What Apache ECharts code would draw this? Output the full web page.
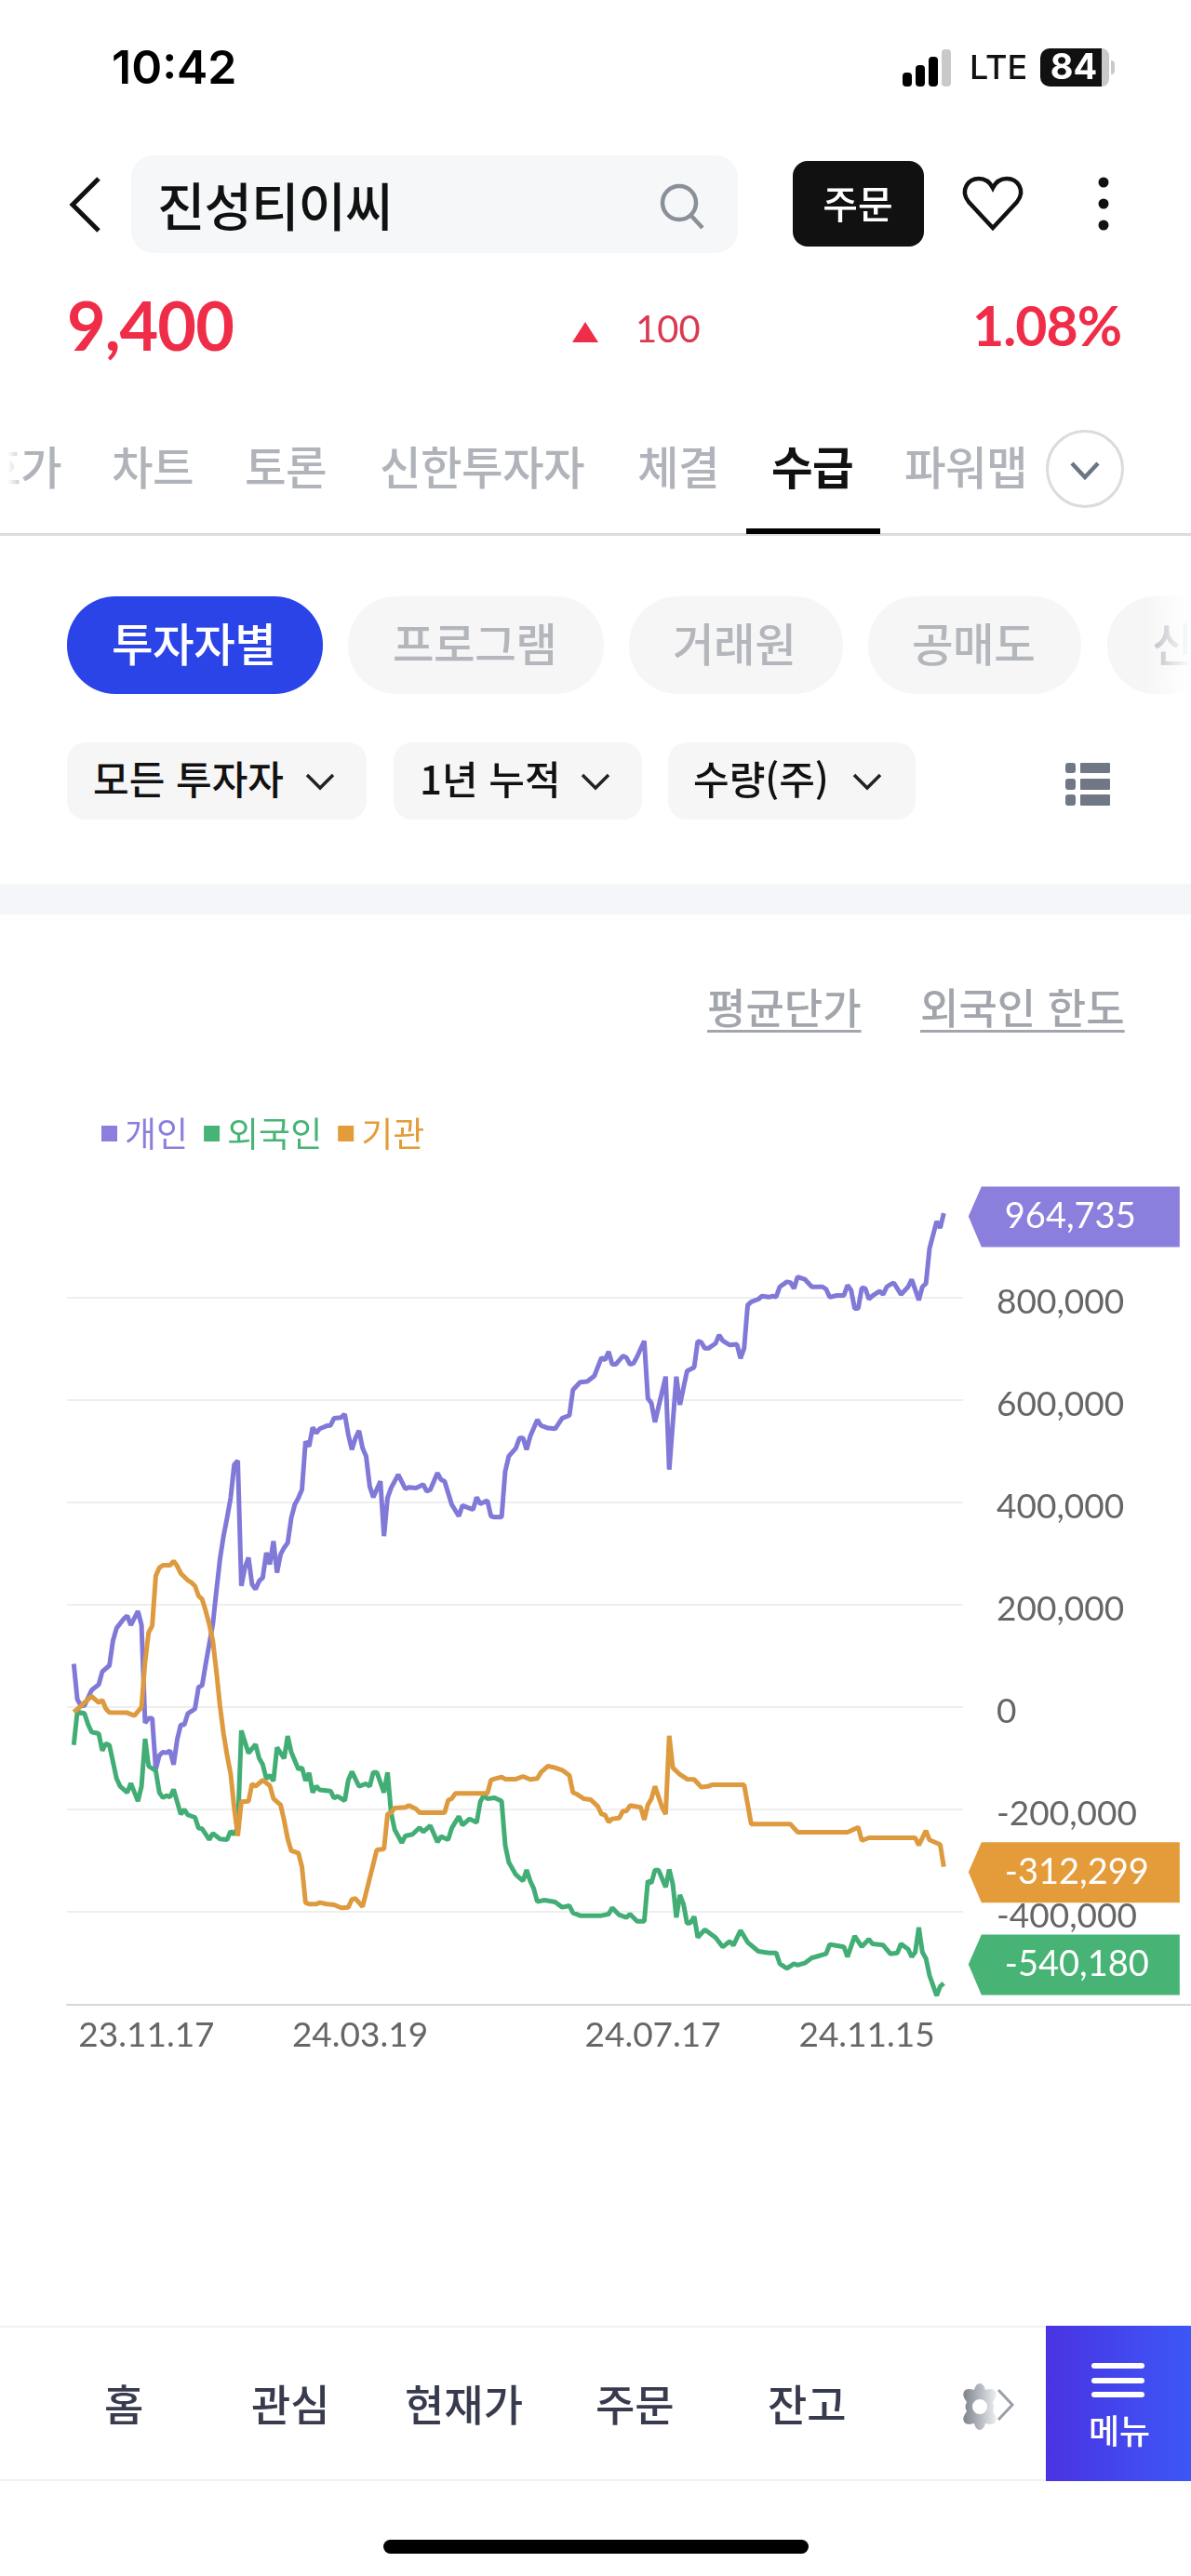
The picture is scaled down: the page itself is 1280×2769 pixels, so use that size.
<!DOCTYPE html>
<html lang="ko"><head><meta charset="utf-8">
<script src="https://cdn.jsdelivr.net/npm/echarts@6/dist/echarts.min.js"></script>
<style>
html,body{margin:0;padding:0;background:#fff;width:1280px;height:2769px;overflow:hidden;font-family:"Noto Sans CJK KR",sans-serif}
#chart{position:absolute;left:0;top:0;width:1280px;height:2769px}
.b{position:absolute}
.t{position:absolute;white-space:nowrap;transform:translateY(-50%);line-height:1.2}
.c{transform:translate(-50%,-50%);text-align:center}
.tab{font-size:48.5px;color:#b0b4ba;font-weight:500;letter-spacing:-.6px}
.pill{background:#f6f6f7;border-radius:52px;top:641px;height:105px}
.pt{font-size:48.5px;color:#b3b6bb;font-weight:500;top:690px;letter-spacing:-.5px}
.flt{background:#f6f6f7;border-radius:20px;top:798px;height:83px}
.ft{font-size:42px;color:#111;font-weight:500;top:836px}
.nav{font-size:46px;color:#373b4d;font-weight:500;top:2583px}
.lnk{font-size:45px;color:#a2a6ac;font-weight:500;top:1082px;text-decoration:underline;text-underline-offset:6px;text-decoration-thickness:3px}
svg{position:absolute;overflow:visible}
</style></head><body>
<div id="chart"></div>

<div class="t" style="left:120px;top:72px;font:600 50px Inter;line-height:1.2">10:42</div>
<svg style="left:970px;top:50px" width="60" height="46"><rect x="0" y="28" width="10" height="15" rx="4"/><rect x="14" y="20" width="10" height="23" rx="4"/><rect x="28" y="11" width="10" height="32" rx="4"/><rect x="42" y="3" width="10" height="40" rx="4" fill="#c9c9c9"/></svg>
<div class="t" style="left:1042px;top:73px;font:500 36px Inter;line-height:1.2;color:#111">LTE</div>
<div class="b" style="left:1118px;top:52px;width:66px;height:41px;background:#111;border-radius:10px 0 0 10px"></div>
<div class="b" style="left:1184px;top:52px;width:8px;height:41px;background:#c9c9c9;border-radius:0 10px 10px 0"></div>
<div class="b" style="left:1194px;top:65px;width:4px;height:15px;background:#c9c9c9;border-radius:0 4px 4px 0"></div>
<div class="t c" style="left:1154px;top:72px;font:700 38px Inter;line-height:1.2;color:#fff">84</div>

<svg style="left:75px;top:190px" width="32" height="60" fill="none" stroke="#111" stroke-width="5"><path d="M31,2 L3,30 L31,58"/></svg>
<div class="b" style="left:141px;top:167px;width:652px;height:105px;background:#f6f7f8;border-radius:24px"></div>
<div class="t" style="left:169px;top:219px;font-size:56px;font-weight:500;color:#111;letter-spacing:-1px">진성티이씨</div>
<svg style="left:710px;top:198px" width="46" height="48" fill="none" stroke="#8a909a" stroke-width="4.5"><circle cx="20" cy="20" r="18"/><path d="M33,34 L45,47"/></svg>
<div class="b" style="left:852px;top:173px;width:141px;height:92px;background:#111;border-radius:16px"></div>
<div class="t c" style="left:922px;top:218px;font-size:41px;font-weight:500;color:#fff">주문</div>
<svg style="left:1035px;top:190px" width="64" height="58" viewBox="0 0 64 58" fill="none" stroke="#111" stroke-width="4.5"><path d="M32,55 L6,27 C-4,14 6,2 17,2 C24,2 29,6 32,12 C35,6 40,2 47,2 C58,2 68,14 58,27 Z"/></svg>
<svg style="left:1176px;top:186px" width="20" height="66" fill="#111"><circle cx="10" cy="10" r="5.5"/><circle cx="10" cy="33" r="5.5"/><circle cx="10" cy="56" r="5.5"/></svg>

<div class="t" style="left:72px;top:349px;font:700 72px Lato;line-height:1.2;color:#ef2d48;letter-spacing:-1px">9,400</div>
<svg style="left:615px;top:346px" width="28" height="22" fill="#ef2d48"><path d="M14,0 L28,22 L0,22 Z"/></svg>
<div class="t" style="left:683px;top:353px;font:400 40px Lato;line-height:1.2;color:#d93a52">100</div>
<div class="t" style="left:1045px;top:350px;font:700 59px Lato;line-height:1.2;color:#ef2d48;letter-spacing:-1px">1.08%</div>

<div class="t tab" style="left:-22px;top:500px">호가</div>
<div class="b" style="left:0;top:470px;width:28px;height:60px;background:linear-gradient(90deg,#fff 30%,rgba(255,255,255,0))"></div>
<div class="t tab" style="left:120px;top:500px">차트</div>
<div class="t tab" style="left:263px;top:500px">토론</div>
<div class="t tab" style="left:408px;top:500px">신한투자자</div>
<div class="t tab" style="left:685px;top:500px">체결</div>
<div class="t tab" style="left:829px;top:500px;color:#111;font-weight:700">수급</div>
<div class="t tab" style="left:972px;top:500px">파워맵</div>
<svg style="left:1124px;top:462px" width="84" height="84" fill="none"><circle cx="42" cy="42" r="40.5" stroke="#d9dbde" stroke-width="3"/><path d="M28,36 L42,51 L56,36" stroke="#6b7684" stroke-width="4.5"/></svg>
<div class="b" style="left:0;top:573px;width:1280px;height:3px;background:#dcdcdc"></div>
<div class="b" style="left:802px;top:568px;width:144px;height:6px;background:#000"></div>

<div class="b" style="left:72px;top:641px;width:275px;height:105px;background:#2b44e8;border-radius:52px"></div>
<div class="t pt" style="left:120px;color:#fff">투자자별</div>
<div class="b pill" style="left:374px;width:275px"></div><div class="t pt" style="left:422px">프로그램</div>
<div class="b pill" style="left:676px;width:230px"></div><div class="t pt" style="left:723px">거래원</div>
<div class="b pill" style="left:933px;width:229px"></div><div class="t pt" style="left:980px">공매도</div>
<div class="b pill" style="left:1190px;width:120px"></div><div class="t pt" style="left:1238px">신</div>
<div class="b" style="left:1230px;top:641px;width:50px;height:105px;background:linear-gradient(90deg,rgba(255,255,255,0),#fff)"></div>

<div class="b flt" style="left:72px;width:322px"></div><div class="t ft" style="left:100px">모든 투자자</div>
<svg class="chev" style="left:328px;top:830px" width="32" height="20" fill="none" stroke="#222" stroke-width="3.5"><path d="M2,3 L16,17 L30,3"/></svg>
<div class="b flt" style="left:423px;width:267px"></div><div class="t ft" style="left:451px">1년 누적</div>
<svg style="left:624px;top:830px" width="32" height="20" fill="none" stroke="#222" stroke-width="3.5"><path d="M2,3 L16,17 L30,3"/></svg>
<div class="b flt" style="left:718px;width:266px"></div><div class="t ft" style="left:745px">수량(주)</div>
<svg style="left:916px;top:830px" width="32" height="20" fill="none" stroke="#222" stroke-width="3.5"><path d="M2,3 L16,17 L30,3"/></svg>
<svg style="left:1145px;top:820px" width="48" height="46" fill="#6f7884"><rect x="0" y="0" width="11" height="11" rx="3"/><rect x="16" y="0" width="32" height="11" rx="1"/><rect x="0" y="17" width="11" height="12" rx="3"/><rect x="16" y="17" width="32" height="12" rx="1"/><rect x="0" y="34" width="11" height="12" rx="3"/><rect x="16" y="34" width="32" height="12" rx="1"/></svg>

<div class="b" style="left:0;top:950px;width:1280px;height:33px;background:#f5f6fa"></div>
<div class="t lnk" style="left:760px">평균단가</div>
<div class="t lnk" style="left:989px">외국인 한도</div>

<div class="b" style="left:0;top:2500px;width:1124px;height:167px;border-top:2px solid #f1f1f1;border-bottom:2px solid #f1f1f1;box-sizing:border-box"></div>
<div class="t nav" style="left:112px">홈</div>
<div class="t nav" style="left:270px">관심</div>
<div class="t nav" style="left:435px">현재가</div>
<div class="t nav" style="left:640px">주문</div>
<div class="t nav" style="left:825px">잔고</div>
<svg style="left:1028px;top:2562px" width="64" height="50" viewBox="0 0 64 50"><defs><linearGradient id="g"><stop offset="0" stop-color="#7d838e"/><stop offset="1" stop-color="#eceef0"/></linearGradient></defs><path fill="url(#g)" fill-rule="evenodd" d="M25,0 C28,0 30,3 31,7 C35,6 40,5 42,9 C44,13 41,17 39,20 C40,23 41,27 39,30 C41,33 44,37 42,41 C40,45 35,44 31,43 C30,47 28,50 25,50 C22,50 20,47 19,43 C15,44 10,45 8,41 C6,37 9,33 11,30 C9,27 9,23 11,20 C9,17 6,13 8,9 C10,5 15,6 19,7 C20,3 22,0 25,0 Z M25,17 A8,8 0 1,0 25,33 A8,8 0 1,0 25,17 Z"/><path d="M45,7 L60,23 L45,39" fill="none" stroke="#9aa0a8" stroke-width="3"/></svg>
<div class="b" style="left:1124px;top:2500px;width:156px;height:167px;background:linear-gradient(90deg,#4a33e2,#3d57f7)"></div>
<div class="b" style="left:1173px;top:2540px;width:57px;height:6px;background:#fff;border-radius:3px"></div>
<div class="b" style="left:1173px;top:2556px;width:57px;height:6px;background:#fff;border-radius:3px"></div>
<div class="b" style="left:1173px;top:2571px;width:57px;height:6px;background:#fff;border-radius:3px"></div>
<div class="t c" style="left:1203px;top:2612px;font-size:36px;color:#fff;font-weight:500">메뉴</div>
<div class="b" style="left:412px;top:2730px;width:457px;height:15px;background:#000;border-radius:8px"></div>

<script>
// [trading-day index, cumulative net shares]
const individual = [[0,84300],[1,14600],[2,2500],[3,2500],[5,32800],[7,43700],[8,69000],[10,81000],[11,129700],[12,154000],[14,172000],[15,178000],[16,160000],[18,187000],[19,160000],[20,-31000],[21,-22000],[22,-22000],[23,-122000],[24,-94500],[25,-88400],[26,-89600],[27,-85400],[28,-112600],[29,-64000],[30,-35000],[31,-35000],[32,-12700],[33,-8400],[34,-3500],[35,38900],[36,41900],[37,83800],[39,161700],[40,226700],[41,288400],[42,333800],[43,369500],[44,408500],[45,473400],[46,481200],[47,236400],[48,272100],[49,291600],[50,239600],[51,229900],[52,246100],[53,252600],[54,301300],[55,278600],[56,324000],[57,262400],[58,298100],[59,311100],[60,320800],[61,369500],[62,395500],[63,408500],[64,424700],[65,518900],[66,509200],[67,546200],[68,535100],[69,543600],[71,549400],[72,550000],[73,564300],[75,565600],[76,572100],[77,531900],[78,502700],[79,525400],[80,539700],[81,505900],[82,489700],[83,431200],[84,409800],[86,440900],[87,333800],[88,408500],[89,427900],[91,453900],[93,426000],[94,429300],[96,427900],[98,434500],[99,421500],[100,424700],[102,457200],[103,444200],[104,441000],[106,395500],[108,372800],[109,393600],[112,385700],[113,409800],[114,396800],[116,403300],[117,372800],[118,370800],[120,370800],[121,460400],[122,489700],[124,505900],[125,525400],[126,525400],[127,502700],[128,528600],[130,561100],[131,550000],[133,544900],[135,543600],[137,564300],[139,569500],[140,619500],[142,634500],[144,635800],[146,646800],[148,682500],[149,678000],[150,694200],[151,669500],[152,669500],[154,685800],[155,682500],[156,669500],[157,671500],[158,684500],[160,715000],[161,603300],[162,593600],[163,556500],[166,645500],[167,463700],[169,645500],[170,590300],[172,656500],[174,663700],[175,715000],[176,712400],[177,700700],[178,700700],[180,710500],[181,726700],[182,715700],[184,707200],[186,708500],[187,681200],[188,700700],[189,785100],[190,791600],[192,796800],[193,802700],[195,800700],[196,802700],[197,801400],[198,820900],[200,830600],[201,829300],[202,817600],[203,840300],[205,835800],[207,820900],[210,820900],[211,816300],[212,800700],[214,804000],[216,804000],[217,824100],[218,814400],[219,778600],[220,778600],[221,818900],[222,817600],[223,796800],[224,803300],[226,812400],[227,805900],[228,820900],[229,825400],[230,828600],[232,805900],[234,820900],[235,835100],[237,794900],[238,820900],[239,827300],[240,895500],[242,948800],[243,935800],[244,964735]];
const foreign = [[0,-74500],[1,-9600],[3,-12700],[4,-33900],[5,-49000],[7,-52000],[8,-85400],[9,-71400],[10,-75000],[12,-139900],[13,-155000],[15,-167200],[16,-149000],[18,-184200],[19,-155000],[20,-62300],[21,-115700],[23,-124800],[24,-167200],[25,-177500],[26,-173200],[27,-176300],[28,-161100],[30,-209600],[31,-200500],[32,-210800],[34,-215700],[35,-236900],[36,-238100],[38,-259300],[39,-247200],[41,-258100],[43,-259300],[44,-242900],[45,-249000],[46,-233800],[47,-46000],[49,-90200],[51,-73200],[52,-100500],[53,-112600],[54,-139900],[55,-133800],[56,-144800],[57,-79300],[59,-100500],[60,-56900],[61,-88400],[63,-121700],[64,-118700],[65,-144200],[66,-129000],[67,-167200],[68,-155000],[69,-162300],[72,-164200],[73,-178100],[74,-174400],[76,-183000],[77,-143000],[78,-126600],[80,-155000],[82,-150200],[83,-155000],[84,-127800],[85,-127800],[87,-167200],[88,-127800],[89,-206600],[90,-239900],[92,-265400],[93,-252000],[95,-249000],[97,-235700],[98,-244100],[100,-232000],[102,-264100],[103,-253200],[105,-259300],[106,-236900],[108,-213800],[109,-230800],[111,-218700],[113,-226000],[114,-185400],[115,-173200],[116,-179300],[118,-177500],[120,-184100],[121,-270200],[122,-303500],[124,-327800],[126,-339900],[127,-318700],[128,-339900],[129,-355000],[130,-380500],[132,-377500],[135,-381100],[137,-391400],[139,-388400],[140,-402300],[142,-407800],[148,-407800],[150,-404700],[151,-392600],[153,-406500],[155,-411400],[156,-404700],[158,-418700],[160,-418700],[161,-339900],[162,-344100],[163,-318700],[164,-318700],[166,-352000],[167,-317500],[168,-345900],[169,-411400],[170,-367200],[171,-385300],[172,-422900],[173,-421700],[174,-409600],[175,-450200],[177,-435000],[180,-450800],[182,-469000],[184,-458100],[185,-465900],[187,-436800],[189,-459900],[192,-477500],[195,-480500],[197,-480500],[198,-501700],[200,-510800],[202,-501700],[203,-504700],[205,-500500],[207,-490200],[208,-488400],[211,-482300],[212,-464100],[213,-465300],[216,-469000],[217,-488400],[219,-447800],[221,-468400],[223,-453800],[224,-462900],[227,-465300],[229,-482300],[231,-480500],[232,-462900],[234,-473200],[235,-488400],[236,-479300],[237,-430800],[238,-479300],[239,-491400],[240,-524700],[242,-564100],[243,-545900],[244,-540180]];
const institution = [[0,-10000],[2,1500],[3,8600],[5,20700],[7,8600],[8,13400],[9,-3600],[10,-10800],[15,-11400],[17,-16900],[19,-500],[20,88000],[21,145500],[22,158500],[23,255900],[24,272100],[25,276700],[27,276700],[28,285100],[29,275400],[30,261100],[32,247400],[33,242900],[34,236400],[35,216900],[36,210400],[37,187700],[38,161700],[39,129300],[40,69200],[41,2500],[42,-52000],[43,-94500],[44,-130800],[45,-197500],[46,-252000],[47,-185400],[49,-184200],[50,-150200],[51,-155000],[53,-143000],[55,-153800],[56,-179300],[58,-191400],[59,-221700],[60,-258100],[61,-281100],[63,-285400],[64,-312600],[65,-382300],[66,-385300],[68,-385300],[69,-382300],[71,-385300],[73,-386600],[75,-392600],[77,-391400],[78,-376200],[79,-374400],[81,-390200],[85,-279300],[87,-277500],[88,-209600],[89,-206600],[90,-197500],[93,-196300],[94,-192600],[96,-199300],[97,-206600],[104,-206600],[105,-182300],[106,-179300],[107,-169000],[116,-169000],[117,-143000],[118,-140500],[120,-136900],[121,-141100],[124,-141100],[126,-135700],[128,-141700],[130,-139900],[131,-127800],[133,-115700],[135,-118700],[137,-123500],[139,-133800],[140,-167200],[141,-170200],[143,-179300],[145,-181100],[147,-194500],[148,-209600],[149,-210800],[150,-224800],[151,-218700],[153,-216900],[154,-203500],[155,-203500],[156,-192600],[159,-196300],[160,-220500],[161,-191400],[162,-179300],[163,-155000],[165,-196300],[166,-209600],[167,-56300],[168,-118700],[170,-132000],[172,-141100],[174,-141700],[176,-156900],[178,-155000],[179,-152000],[188,-152000],[190,-229000],[201,-229000],[203,-244700],[217,-244700],[220,-235100],[221,-261100],[223,-255700],[236,-255700],[237,-270200],[239,-241700],[240,-259900],[243,-269000],[244,-312299]];
const seriesNames = ['개인','외국인','기관'];
const dateTickIndex = [20.4,80.3,162.4,222.4];
const dateTickLabels = ['23.11.17','24.03.19','24.07.17','24.11.15'];
const valueTicks = [-400000,-200000,0,200000,400000,600000,800000];

const AXIS_FONT = 'Lato';
const last = a => a[a.length-1];
function flag(data, color, dy){
  const p = last(data);
  return {
    silent:true,
    symbol:'path://M0,32 L14,0 L227,0 L227,65 L14,65 Z',
    symbolSize:[227,65],
    symbolKeepAspect:false,
    symbolOffset:[140,dy],
    itemStyle:{color},
    label:{show:true,position:[39,'50%'],align:'left',verticalAlign:'middle',color:'#fff',fontFamily:AXIS_FONT,fontSize:38,
      formatter:o=>o.value.toLocaleString('en-US')},
    data:[{coord:p,value:p[1]}]
  };
}
function line(name,data,color,flagColor,dy){
  return {name,type:'line',data,showSymbol:false,smooth:false,clip:false,
    lineStyle:{color,width:5},itemStyle:{color:flagColor},
    markPoint:flag(data,flagColor,dy)};
}
const chart = echarts.init(document.getElementById('chart'),null,{renderer:'canvas'});
chart.setOption({
  animation:false,
  backgroundColor:'transparent',
  legend:{left:104,top:1195,itemWidth:17,itemHeight:17,icon:'rect',itemGap:17,
    textStyle:{color:'inherit',fontSize:37,fontFamily:'"Noto Sans CJK KR"',padding:[0,0,0,3]},
    data:seriesNames},
  grid:{left:72,right:245,top:1284.7,bottom:614},
  xAxis:{type:'value',min:-1.9,max:249.4,
    axisLine:{show:true,onZero:false,lineStyle:{color:'#d6d6d6',width:2}},
    axisTick:{show:false},splitLine:{show:false},
    axisLabel:{show:true,customValues:dateTickIndex,margin:15,color:'#666',fontFamily:AXIS_FONT,fontSize:37,
      formatter:v=>dateTickLabels[dateTickIndex.indexOf(v)]}},
  yAxis:{type:'value',position:'right',min:-582000,max:1000000,
    axisLine:{show:false},axisTick:{show:false,customValues:valueTicks},
    splitLine:{show:true,lineStyle:{color:'#eeeeee',width:2}},
    axisLabel:{show:true,customValues:valueTicks,margin:36,color:'#666',fontFamily:AXIS_FONT,fontSize:37,align:'left',verticalAlign:'top',lineHeight:11}},
  series:[
    line(seriesNames[0],individual,'#8079d8','#8b7fdd',4),
    line(seriesNames[1],foreign,'#42ae76','#47b475',-20),
    line(seriesNames[2],institution,'#dd9a3e','#e49c3a',6)
  ],
  graphic:[{type:'rect',silent:true,shape:{x:1035,y:2154,width:245,height:2},style:{fill:'#d6d6d6'}}]
});
</script>
</body></html>
